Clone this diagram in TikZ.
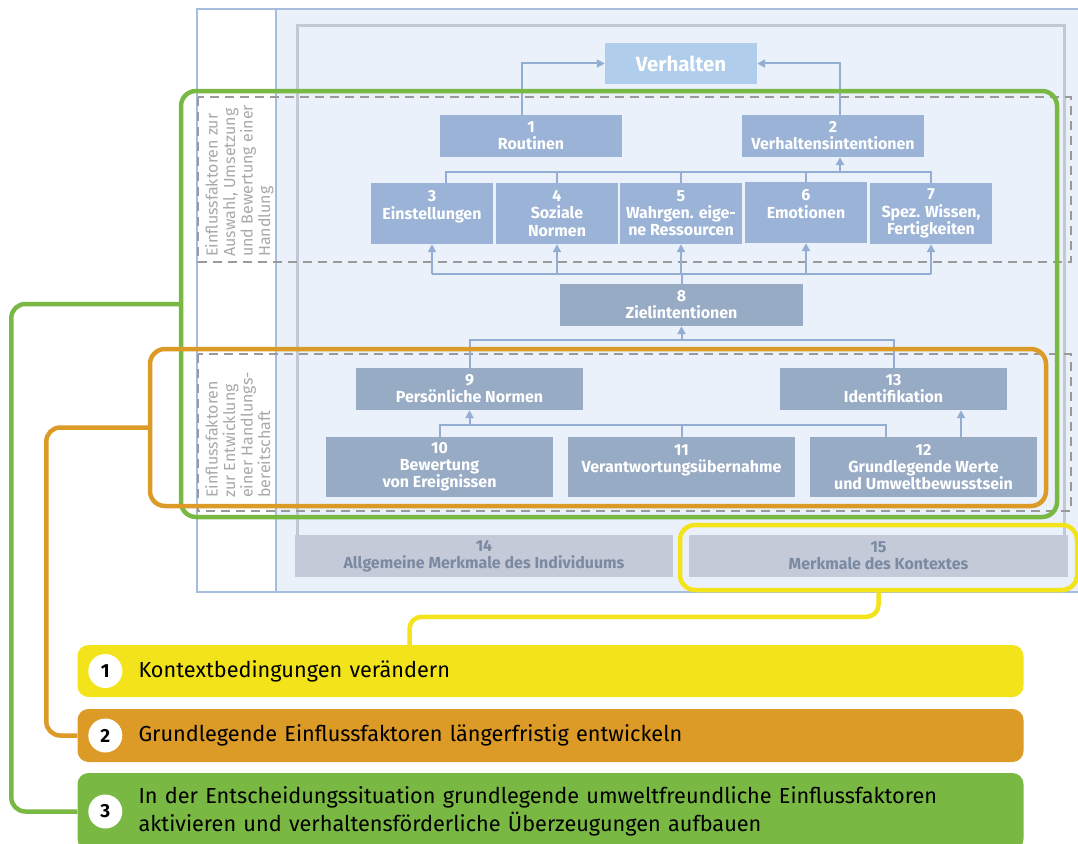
\documentclass[tikz,border=0pt]{standalone}
\usepackage{fontspec}
\setmainfont{Fira Sans}
\usetikzlibrary{arrows.meta, positioning}
\definecolor{bgblue}{HTML}{EAF1FA}
\definecolor{frameblue}{HTML}{A6BDDD}
\definecolor{framegray}{HTML}{C2C9D5}
\definecolor{verhblue}{HTML}{B0CDEC}
\definecolor{upblue}{HTML}{9BB3D6}
\definecolor{midgray}{HTML}{98ABC4}
\definecolor{lowgray}{HTML}{C4CAD7}
\definecolor{lowtext}{HTML}{7B8AA3}
\definecolor{connblue}{HTML}{94AED3}
\definecolor{dashgray}{HTML}{9A9A9A}
\definecolor{cgreen}{HTML}{78B843}
\definecolor{corange}{HTML}{DC9A26}
\definecolor{cyellow}{HTML}{F2E31B}
\newcommand{\boxfont}{\fontsize{16}{17.2}\selectfont\bfseries}
\newcommand{\barfont}{\fontsize{21.7}{28}\selectfont}
\newcommand{\sidefont}{\fontsize{16}{17.5}\selectfont}
\tikzset{
  box/.style    = {inner sep=0pt, align=center, text=white, font=\boxfont},
  bup/.style    = {box, fill=upblue},
  bmid/.style   = {box, fill=midgray},
  blow/.style   = {box, fill=lowgray, text=lowtext},
  conn/.style   = {draw=connblue, line width=2pt},
  arr/.style    = {conn, -{Triangle[length=8pt,width=8pt]}},
  dashbox/.style= {draw=dashgray, line width=1.6pt, dash pattern=on 9pt off 6pt},
  hilite/.style = {draw, line width=4.5pt, rounded corners=15pt, inner sep=0pt},
  bar/.style    = {rounded corners=11pt, inner xsep=61pt, inner ysep=0pt,
                   text width=824pt, align=left, font=\barfont},
  num/.style    = {circle, fill=white, minimum size=34pt, inner sep=0pt,
                   font=\fontsize{19}{19}\selectfont\bfseries},
  side/.style   = {rotate=90, anchor=north west, align=left, text=dashgray!85,
                   font=\sidefont, inner sep=0pt}
}
\begin{document}
\begin{tikzpicture}[x=1pt, y=-1pt]
  \useasboundingbox (0,0) rectangle (1078,843);
  % frames
  \draw[frameblue, line width=1.5pt, fill=bgblue] (197,9) rectangle (1095,592);
  \draw[frameblue, line width=1.5pt, fill=white] (197,9) rectangle (276,592);
  \draw[framegray, line width=3pt] (297,535) -- (297,26) -- (1064,26) -- (1064,535);
  \draw[dashbox] (198,97) rectangle (1071,262);
  \draw[dashbox] (198,354) rectangle (1071,511);
  \node[side] (lab1) at (205,257)
    {Einflussfaktoren zur\\Auswahl, Umsetzung\\und Bewertung einer\\Handlung};
  \node[side] (lab2) at (205,498)
    {Einflussfaktoren\\zur Entwicklung\\einer Handlungs-\\bereitschaft};

  % boxes
  \node[box, fill=verhblue, minimum width=152pt, minimum height=41pt,
        font=\fontsize{20.5}{20.5}\selectfont\bfseries] (verh) at (681,63.5) {Verhalten};
  \node[bup, minimum width=182pt, minimum height=42pt] (r1) at (531,136) {1\\Routinen};
  \node[bup, minimum width=182pt, minimum height=42pt] (r2) at (833,136) {2\\Verhaltensintentionen};
  \node[bup, minimum width=122pt, minimum height=61pt] (r3) at (432,213.5) {3\\Einstellungen\\~};
  \node[bup, minimum width=122pt, minimum height=61pt] (r4) at (557,213.5) {4\\Soziale\\Normen};
  \node[bup, minimum width=122pt, minimum height=61pt] (r5) at (681,213.5) {5\\Wahrgen. eige-\\ne Ressourcen};
  \node[bup, minimum width=122pt, minimum height=61pt] (r6) at (806,212.5) {6\\Emotionen\\~};
  \node[bup, minimum width=122pt, minimum height=61pt] (r7) at (931,213.5) {7\\Spez. Wissen,\\Fertigkeiten};
  \node[bmid, minimum width=243pt, minimum height=42pt] (r8) at (681.5,305) {8\\Zielintentionen};
  \node[bmid, minimum width=227pt, minimum height=42pt] (r9) at (469.5,389) {9\\Persönliche Normen};
  \node[bmid, minimum width=227pt, minimum height=42pt] (r13) at (893.5,389) {13\\Identifikation};
  \node[bmid, minimum width=227pt, minimum height=60pt] (r10) at (439.5,467) {10\\Bewertung\\von Ereignissen};
  \node[bmid, minimum width=227pt, minimum height=60pt] (r11) at (681.5,467) {11\\Verantwortungsübernahme\\~};
  \node[bmid, minimum width=227pt, minimum height=60pt] (r12) at (923.5,467) {12\\Grundlegende Werte\\und Umweltbewusstsein};
  \node[blow, minimum width=378pt, minimum height=42pt] (r14) at (484,556) {14\\Allgemeine Merkmale des Individuums};
  \node[blow, minimum width=379pt, minimum height=42pt] (r15) at (878.5,556) {15\\Merkmale des Kontextes};

  % connectors
  \coordinate (busT) at (0,172);
  \coordinate (busM) at (0,274);
  \coordinate (busL) at (0,340);
  \coordinate (busB) at (0,425);
  \draw[arr] ([xshift=-9pt]r1.north) |- (verh.west);
  \draw[arr] ([xshift=7pt]r2.north) |- (verh.east);
  \draw[conn] ([xshift=14pt]r3.north) -- ([xshift=14pt]r3.north |- busT) -| (r7.north);
  \foreach \n in {r4,r5,r6}
    \draw[conn] (\n.north) -- (\n.north |- busT);
  \draw[arr] ([xshift=7pt]r2.south |- busT) -- ([xshift=7pt]r2.south);
  \draw[conn] (r8.north) -- (r8.north |- busM);
  \draw[conn] (r3.south |- busM) -- (r7.south |- busM);
  \foreach \n in {r3,r4,r5,r6,r7}
    \draw[arr] (\n.south |- busM) -- (\n.south);
  \draw[conn] (r9.north) -- (r9.north |- busL) -| (r13.north);
  \draw[arr] (r8.south |- busL) -- (r8.south);
  \draw[conn] (r10.north) -- (r10.north |- busB) -| ([xshift=-37.5pt]r12.north);
  \draw[conn] (r11.north) -- (r11.north |- busB);
  \draw[arr] (r9.south |- busB) -- (r9.south);
  \draw[arr] ([xshift=37.5pt]r12.north) -- ([xshift=37.5pt]r12.north |- r13.south);

  % highlight frames
  \node[hilite, cgreen, minimum width=876pt, minimum height=426pt] (gfr) at (619,304) {};
  \node[hilite, corange, minimum width=896pt, minimum height=157pt] (ofr) at (598,427.5) {};
  \node[hilite, cyellow, minimum width=397pt, minimum height=65pt] (yfr) at (878.5,557.5) {};

  % measures
  \node[bar, fill=cyellow, minimum height=52pt] (b1) at (550.5,671) {Kontextbedingungen verändern};
  \node[bar, fill=corange, minimum height=53pt] (b2) at (550.5,735.5) {Grundlegende Einflussfaktoren längerfristig entwickeln};
  \node[bar, fill=cgreen, minimum height=77pt] (b3) at (550.5,811.5)
    {In der Entscheidungssituation grundlegende umweltfreundliche Einflussfaktoren\\aktivieren und verhaltensförderliche Überzeugungen aufbauen};
  \node[num] (n1) at ([xshift=28pt]b1.west) {1};
  \node[num] (n2) at ([xshift=28pt]b2.west) {2};
  \node[num] (n3) at ([xshift=28pt]b3.west) {3};

  \draw[cyellow, line width=4.5pt, rounded corners=12pt]
    (yfr.south) |- ([xshift=-141pt,yshift=28pt]b1.north) -- ([xshift=-141pt]b1.north);
  \draw[corange, line width=4.5pt, rounded corners=14pt]
    (ofr.west) -| ([xshift=-31pt]b2.west) -- (b2.west);
  \draw[cgreen, line width=4.5pt, rounded corners=14pt]
    (gfr.west) -| ([xshift=-66pt]b3.west) -- (b3.west);
\end{tikzpicture}
\end{document}
